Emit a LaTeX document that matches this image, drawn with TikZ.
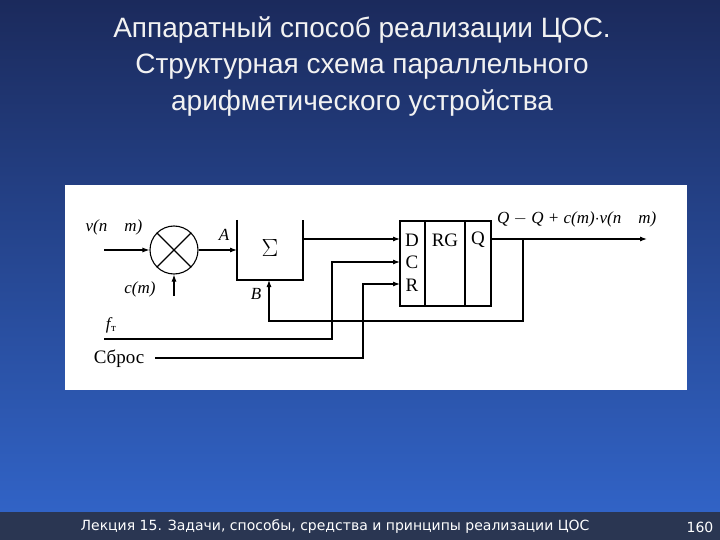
\documentclass[tikz,border=0pt]{standalone}
\usepackage{fontspec}
\setmainfont{Liberation Serif}
\newfontfamily\titlefont{Liberation Sans}
\newfontfamily\footfont{DejaVu Sans}
\usetikzlibrary{arrows.meta}
\definecolor{bgtop}{HTML}{1B2A5C}
\definecolor{bgbot}{HTML}{3163C6}
\definecolor{foot}{HTML}{2A3652}
\begin{document}
\begin{tikzpicture}[x=1pt,y=-1pt,
  wire/.style={line width=1.1pt},
  arr/.style={wire,-{Latex[length=7pt,width=5pt]}},
  lbl/.style={font=\fontsize{17}{17}\selectfont\itshape,inner sep=0pt},
  rlbl/.style={font=\fontsize{19}{19}\selectfont,inner sep=0pt},
  ttl/.style={text=white!90!gray,font=\titlefont\fontsize{28}{28}\selectfont}]
\useasboundingbox (0,0) rectangle (720,540);
\shade[top color=bgtop,bottom color=bgbot] (0,0) rectangle (720,512);
\fill[foot] (0,512) rectangle (720,540);
\fill[white] (65,185) rectangle (687,390);
\node[ttl] (t1) at (362,30) {Аппаратный способ реализации ЦОС.};
\node[ttl] (t2) at (362,67) {Структурная схема параллельного};
\node[ttl] (t3) at (362,103) {арифметического устройства};
\node[text=white,font=\footfont\fontsize{14}{14}\selectfont] (f1) at (335,527) {Лекция 15. Задачи, способы, средства и принципы реализации ЦОС};
\node[text=white,font=\footfont\fontsize{14}{14}\selectfont] (f2) at (700,527) {160};
% multiplier
\node[draw,wire,circle,minimum size=48pt,inner sep=0pt] (mul) at (174,250) {};
\draw[wire] (mul.north west) -- (mul.south east) (mul.north east) -- (mul.south west);
\coordinate (vin) at (104,250);
\coordinate (cin) at (174,296);
\draw[arr] (vin) -- (mul.west);
\draw[arr] (cin) -- (mul.south);
\node[lbl] (lv) at (114,227) {v(n\quad m)};
\node[lbl] (lc) at (140,289) {c(m)};
% sigma
\draw[wire] (237,220) -- (237,280) -- (303,280) -- (303,220);
\node[font=\fontsize{26}{26}\selectfont,inner sep=0pt] (sig) at (270,248) {$\Sigma$};
\coordinate (sA) at (237,250);
\draw[arr] (mul.east) -- (sA);
\node[lbl] (la) at (224,235) {A};
\node[lbl] (lb) at (256,294) {B};
% register
\draw[wire] (400,221) rectangle (491,306) (425,221) -- (425,306) (465,221) -- (465,306);
\node[rlbl] (rD) at (412,240) {D};
\node[rlbl] (rC) at (412,262) {C};
\node[rlbl] (rR) at (412,285) {R};
\node[rlbl] (rRG) at (445,240) {RG};
\node[rlbl] (rQ) at (478,240) {Q};
\coordinate (sout) at (303,239);
\draw[arr] (sout) -- (400,239);
\coordinate (qout) at (491,239);
\coordinate (qend) at (647,239);
\draw[arr] (qout) -- (qend);
\draw[arr] (523,239) -- (523,321) -- (269,321) -- (269,280);
\node[lbl,anchor=west] (lq) at (497,219) {Q $-$ Q + c(m)$\cdot$v(n\quad m)};
% clock and reset
\coordinate (fT) at (104,339);
\draw[arr] (fT) -- (332,339) -- (332,262) -- (400,262);
\node[lbl] (lf) at (111,325) {f\kern0.5pt\raisebox{-2pt}{\fontsize{11}{11}\selectfont\upshape т}};
\coordinate (rs) at (155,358);
\draw[arr] (rs) -- (363,358) -- (363,284) -- (400,284);
\node[rlbl] (lr) at (119,359) {Сброс};
\end{tikzpicture}
\end{document}
